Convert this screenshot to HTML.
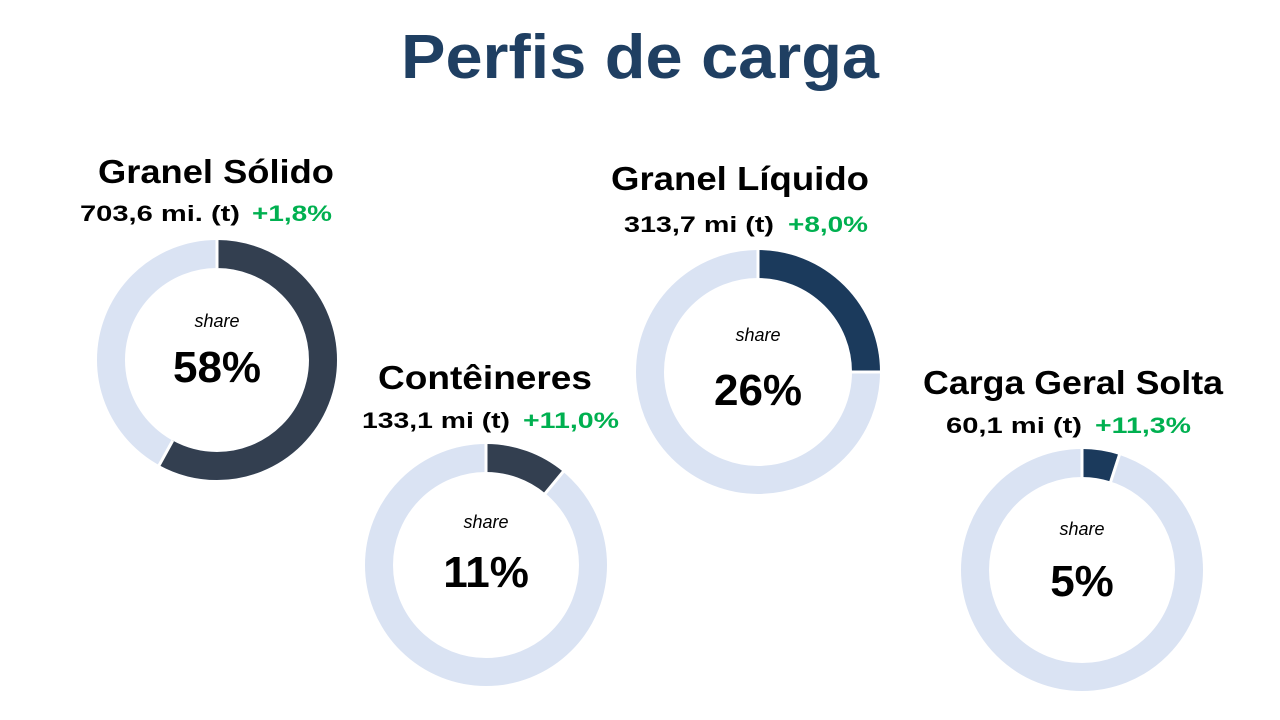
<!DOCTYPE html>
<html><head><meta charset="utf-8"><style>
body{margin:0;width:1280px;height:720px;background:#fff;overflow:hidden;font-family:"Liberation Sans",sans-serif}
svg{position:absolute;left:0;top:0}
</style></head><body>
<svg width="1280" height="720" viewBox="0 0 1280 720" font-family="Liberation Sans, sans-serif">
<text x="640" y="78" text-anchor="middle" font-size="62" font-weight="bold" fill="#1f3f62" textLength="478" lengthAdjust="spacingAndGlyphs">Perfis de carga</text>

<!-- donut 1 -->
<g transform="translate(217,360)">
<circle r="106" fill="none" stroke="#dae3f3" stroke-width="28"/>
<circle r="106" fill="none" stroke="#333f50" stroke-width="28" stroke-dasharray="386.3 1000" transform="rotate(-90)"/>
<line x1="0" y1="-92" x2="0" y2="-121" stroke="#fff" stroke-width="3"/>
<line x1="0" y1="-92" x2="0" y2="-121" stroke="#fff" stroke-width="3" transform="rotate(208.8)"/>
<text x="0" y="-33" text-anchor="middle" font-size="18" font-style="italic">share</text>
<text x="0" y="22" text-anchor="middle" font-size="44" font-weight="bold">58%</text>
</g>
<text x="216" y="183" text-anchor="middle" font-size="33" font-weight="bold" textLength="236" lengthAdjust="spacingAndGlyphs">Granel Sólido</text>
<text x="80" y="221" font-size="22" font-weight="bold" textLength="160" lengthAdjust="spacingAndGlyphs">703,6 mi. (t)</text>
<text x="252" y="221" font-size="22" font-weight="bold" fill="#00b050" textLength="80" lengthAdjust="spacingAndGlyphs">+1,8%</text>

<!-- donut 2 -->
<g transform="translate(486,565)">
<circle r="107" fill="none" stroke="#dae3f3" stroke-width="28"/>
<circle r="107" fill="none" stroke="#333f50" stroke-width="28" stroke-dasharray="73.9 1000" transform="rotate(-90)"/>
<line x1="0" y1="-92" x2="0" y2="-122" stroke="#fff" stroke-width="3"/>
<line x1="0" y1="-92" x2="0" y2="-122" stroke="#fff" stroke-width="3" transform="rotate(39.6)"/>
<text x="0" y="-37" text-anchor="middle" font-size="18" font-style="italic">share</text>
<text x="0" y="22" text-anchor="middle" font-size="44" font-weight="bold">11%</text>
</g>
<text x="485" y="389" text-anchor="middle" font-size="33" font-weight="bold" textLength="214" lengthAdjust="spacingAndGlyphs">Contêineres</text>
<text x="362" y="428" font-size="22" font-weight="bold" textLength="148" lengthAdjust="spacingAndGlyphs">133,1 mi (t)</text>
<text x="523" y="428" font-size="22" font-weight="bold" fill="#00b050" textLength="96" lengthAdjust="spacingAndGlyphs">+11,0%</text>

<!-- donut 3 -->
<g transform="translate(758,372)">
<circle r="108" fill="none" stroke="#dae3f3" stroke-width="28"/>
<circle r="108" fill="none" stroke="#1b3a5c" stroke-width="28" stroke-dasharray="169.6 1000" transform="rotate(-90)"/>
<line x1="0" y1="-93" x2="0" y2="-123" stroke="#fff" stroke-width="3"/>
<line x1="0" y1="-93" x2="0" y2="-123" stroke="#fff" stroke-width="3" transform="rotate(90)"/>
<text x="0" y="-31" text-anchor="middle" font-size="18" font-style="italic">share</text>
<text x="0" y="33" text-anchor="middle" font-size="44" font-weight="bold">26%</text>
</g>
<text x="740" y="190" text-anchor="middle" font-size="33" font-weight="bold" textLength="258" lengthAdjust="spacingAndGlyphs">Granel Líquido</text>
<text x="624" y="232" font-size="22" font-weight="bold" textLength="150" lengthAdjust="spacingAndGlyphs">313,7 mi (t)</text>
<text x="788" y="232" font-size="22" font-weight="bold" fill="#00b050" textLength="80" lengthAdjust="spacingAndGlyphs">+8,0%</text>

<!-- donut 4 -->
<g transform="translate(1082,570)">
<circle r="107" fill="none" stroke="#dae3f3" stroke-width="28"/>
<circle r="107" fill="none" stroke="#1b3a5c" stroke-width="28" stroke-dasharray="33.6 1000" transform="rotate(-90)"/>
<line x1="0" y1="-92" x2="0" y2="-122" stroke="#fff" stroke-width="3"/>
<line x1="0" y1="-92" x2="0" y2="-122" stroke="#fff" stroke-width="3" transform="rotate(18)"/>
<text x="0" y="-35" text-anchor="middle" font-size="18" font-style="italic">share</text>
<text x="0" y="26" text-anchor="middle" font-size="44" font-weight="bold">5%</text>
</g>
<text x="1073" y="394" text-anchor="middle" font-size="33" font-weight="bold" textLength="300" lengthAdjust="spacingAndGlyphs">Carga Geral Solta</text>
<text x="946" y="433" font-size="22" font-weight="bold" textLength="136" lengthAdjust="spacingAndGlyphs">60,1 mi (t)</text>
<text x="1095" y="433" font-size="22" font-weight="bold" fill="#00b050" textLength="96" lengthAdjust="spacingAndGlyphs">+11,3%</text>
</svg>
</body></html>
